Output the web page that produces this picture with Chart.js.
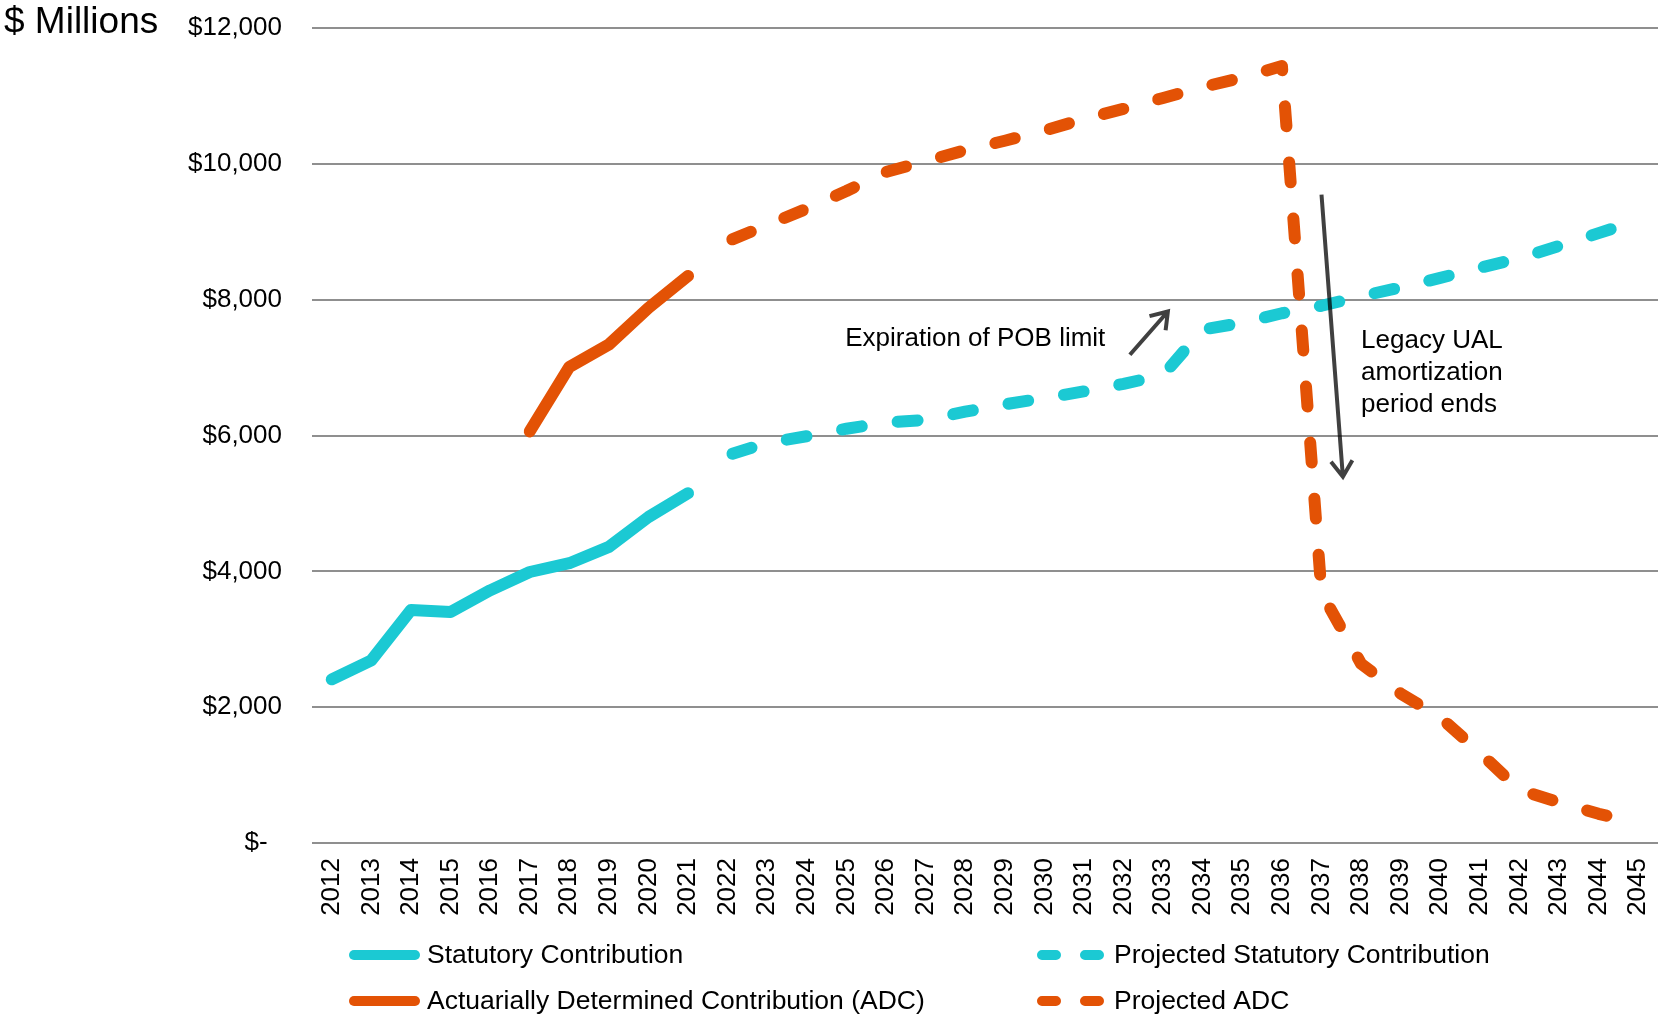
<!DOCTYPE html>
<html>
<head>
<meta charset="utf-8">
<title>Contributions</title>
<script src="https://cdn.jsdelivr.net/npm/chart.js@4.4.1/dist/chart.umd.min.js"></script>
<style>
  html, body { margin: 0; padding: 0; background: #fff; }
</style>
</head>
<body>
<canvas id="myChart" width="1658" height="1015"></canvas>
<script>
var years = ['2012', '2013', '2014', '2015', '2016', '2017', '2018', '2019', '2020', '2021',
  '2022', '2023', '2024', '2025', '2026', '2027', '2028', '2029', '2030', '2031',
  '2032', '2033', '2034', '2035', '2036', '2037', '2038', '2039', '2040', '2041',
  '2042', '2043', '2044', '2045'];

// actuals, $ millions
var statutory = [2410, 2690, 3430, 3400, 3720, 3990, 4120, 4360, 4800, 5150];
var adc = [6060, 7010, 7340, 7880, 8350];

// projections from 2022
var projStatutory = [5710, 5890, 5990, 6100, 6190, 6230, 6350, 6460, 6550, 6650, 6760, 6890,
  7560, 7660, 7800, 7910, 8050, 8180, 8320, 8470, 8610, 8790, 8980, 9170];
var projAdc = [8860, 9100, 9340, 9600, 9880, 10040, 10200, 10340, 10490, 10660, 10810, 10970,
  11130, 11270, 11440, 3680, 2640, 2200, 1850, 1330, 780, 600, 430, 290];

var seriesNames = ['Statutory Contribution', 'Projected Statutory Contribution',
  'Actuarially Determined Contribution (ADC)', 'Projected ADC'];

var CYAN = '#1BC9D3';
var ORANGE = '#E35205';
var FONT = '"Liberation Sans", Arial, sans-serif';
var DASH = [20, 36.2];

// spread a short series over the full year axis
function place(values, firstYear) {
  var out = years.map(function () { return null; });
  var start = years.indexOf(firstYear);
  values.forEach(function (v, i) { out[start + i] = v; });
  return out;
}

function money(v) {
  if (v === 0) return '$-  ';
  return '$' + v.toLocaleString('en-US');
}

function arrow(ctx, x1, y1, x2, y2) {
  var a = Math.atan2(y2 - y1, x2 - x1);
  var len = 19, spread = 0.6;
  ctx.beginPath();
  ctx.moveTo(x1, y1);
  ctx.lineTo(x2, y2);
  ctx.moveTo(x2 - len * Math.cos(a - spread), y2 - len * Math.sin(a - spread));
  ctx.lineTo(x2, y2);
  ctx.lineTo(x2 - len * Math.cos(a + spread), y2 - len * Math.sin(a + spread));
  ctx.stroke();
}

// notes and arrows, placed in axis units
var notes = {
  id: 'notes',
  afterDatasetsDraw: function (chart) {
    var ctx = chart.ctx, xs = chart.scales.x, ys = chart.scales.y;
    function px(i) { return xs.getPixelForValue(i); }
    function py(v) { return ys.getPixelForValue(v); }
    ctx.save();
    ctx.fillStyle = '#000';
    ctx.font = '26px ' + FONT;
    ctx.textBaseline = 'alphabetic';
    ctx.fillText('Expiration of POB limit', px(12.97), py(7325));
    ['Legacy UAL', 'amortization', 'period ends'].forEach(function (t, k) {
      ctx.fillText(t, px(26.0), py(7287 - k * 468));
    });
    ctx.strokeStyle = 'rgba(0,0,0,0.75)';
    ctx.lineWidth = 4;
    ctx.lineCap = 'butt';
    ctx.lineJoin = 'miter';
    arrow(ctx, px(20.16), py(7189), px(21.12), py(7826));
    arrow(ctx, px(25.0), py(9546), px(25.54), py(5394));
    ctx.restore();
  },
  afterDraw: function (chart) {
    var ctx = chart.ctx;
    ctx.save();
    ctx.fillStyle = '#000';
    ctx.font = '37px ' + FONT;
    ctx.textBaseline = 'alphabetic';
    ctx.fillText('$ Millions', 4, 33);

    // two-column legend under the axis
    var cols = [348, 1036], rows = [955, 1001];
    ctx.font = '26.5px ' + FONT;
    ctx.textBaseline = 'middle';
    chart.data.datasets.forEach(function (ds, i) {
      var x = cols[i % 2], y = rows[Math.floor(i / 2)];
      var dashed = ds.borderDash && ds.borderDash.length;
      ctx.strokeStyle = ds.borderColor;
      ctx.lineWidth = 10;
      ctx.lineCap = 'round';
      ctx.beginPath();
      if (dashed) {
        ctx.moveTo(x + 6, y); ctx.lineTo(x + 20, y);
        ctx.moveTo(x + 49, y); ctx.lineTo(x + 63, y);
      } else {
        ctx.moveTo(x + 6, y); ctx.lineTo(x + 67, y);
      }
      ctx.stroke();
      ctx.fillText(ds.label, x + (dashed ? 78 : 79), y + 1);
    });
    ctx.restore();
  }
};

var ctx = document.getElementById('myChart');

var contributions = new Chart(ctx, {
  type: 'line',
  data: {
    labels: years,
    datasets: [{
      label: seriesNames[0],
      data: place(statutory, '2012'),
      borderColor: CYAN
    }, {
      label: seriesNames[1],
      data: place(projStatutory, '2022'),
      borderColor: CYAN,
      borderDash: DASH,
      borderDashOffset: -5
    }, {
      label: seriesNames[2],
      data: place(adc, '2017'),
      borderColor: ORANGE
    }, {
      label: seriesNames[3],
      data: place(projAdc, '2022'),
      borderColor: ORANGE,
      borderDash: DASH,
      borderDashOffset: -5
    }]
  },
  options: {
    responsive: false,
    animation: false,
    layout: { padding: { left: 0, right: 0, top: 28, bottom: 92 } },
    elements: {
      line: { borderWidth: 12, borderCapStyle: 'round', borderJoinStyle: 'round', tension: 0, fill: false },
      point: { radius: 0, hoverRadius: 0 }
    },
    plugins: {
      legend: { display: false },
      tooltip: { enabled: false }
    },
    scales: {
      x: {
        offset: true,
        grid: { display: false },
        border: { display: false },
        ticks: {
          autoSkip: false,
          minRotation: 90,
          maxRotation: 90,
          padding: 7,
          color: '#000',
          font: { family: FONT, size: 26 }
        },
        afterFit: function (s) {
          s.height = 80;
          s.paddingLeft = 0;
          s.paddingRight = 0;
        }
      },
      y: {
        min: 0,
        max: 12000,
        grid: { color: '#8f8f8f', lineWidth: 2, drawTicks: false },
        border: { display: false },
        ticks: {
          stepSize: 2000,
          padding: 30,
          color: '#000',
          font: { family: FONT, size: 26 },
          callback: money
        },
        afterFit: function (s) {
          s.width = 312;
          s.paddingTop = 0;
          s.paddingBottom = 0;
        }
      }
    }
  },
  plugins: [notes]
});
</script>
</body>
</html>
